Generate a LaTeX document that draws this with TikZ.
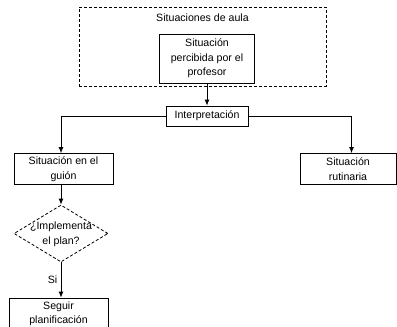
\documentclass[tikz,border=0pt]{standalone}
\usepackage{fontspec}
\setmainfont{Liberation Sans}
\usetikzlibrary{shapes.geometric,arrows.meta}

\begin{document}
\begin{tikzpicture}[x=1pt,y=-1pt,
    every node/.style={font=\fontsize{10.6}{14.5}\selectfont},
    caja/.style={draw,line width=0.8pt,align=center,inner sep=0pt},
    rombo/.style={draw,diamond,dashed,dash pattern=on 3pt off 2pt,line width=0.8pt,inner sep=0pt},
    flecha/.style={line width=0.8pt,-{Latex[length=6pt,width=5pt]}}]
  \useasboundingbox (0,0) rectangle (397,327);
  \node[caja,dash pattern=on 3pt off 2pt,minimum width=247,minimum height=79] (aula) at (202.5,46.5) {};
  \node (titulo) at (202.5,18) {Situaciones de aula};
  \node[caja,minimum width=95,minimum height=49] (percibida) at (207,58.5) {Situación\\percibida por el\\profesor};
  \node[caja,minimum width=82,minimum height=20] (interp) at (207,116) {Interpretación};
  \node[caja,minimum width=99,minimum height=31] (guion) at (63.5,169) {Situación en el\\guión};
  \node[caja,minimum width=96,minimum height=31] (rutinaria) at (348,169) {Situación\\rutinaria};
  \node[rombo,minimum width=94,minimum height=57,
        label={[align=center,yshift=-1pt]center:¿Implementa\\el plan?}] (plan) at (61,233.5) {};
  \node[caja,minimum width=99,minimum height=32] (seguir) at (58.5,314) {Seguir\\planificación};

  \draw[flecha] (percibida) -- (interp);
  \draw[flecha] (interp) -| ([xshift=-2.5pt]guion.north);
  \draw[flecha] (interp) -| ([xshift=3.5pt]rutinaria.north);
  \draw[flecha] (plan.north |- guion.south) -- (plan.north);
  \draw[flecha] (plan.south) -- (plan.south |- seguir.north) node[midway,left] {Si};
\end{tikzpicture}
\end{document}
